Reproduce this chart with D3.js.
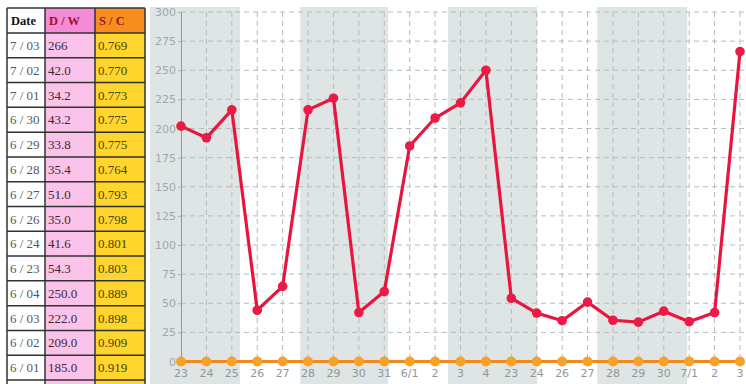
<!DOCTYPE html>
<html>
<head>
<meta charset="utf-8">
<script src="https://cdn.jsdelivr.net/npm/d3@7"></script>
<style>
  html, body { margin: 0; padding: 0; background: #fff; }
  svg { display: block; }
</style>
</head>
<body>
<div id="chart"></div>
<script>
// chart data
const dayLabels = ["23", "24", "25", "26", "27", "28", "29", "30", "31", "6/1", "2", "3", "4",
  "23", "24", "26", "27", "28", "29", "30", "7/1", "2", "3"];
const dwSeries = [202, 192, 216, 44, 64.5, 216, 226, 42, 60, 185, 209, 222, 250,
  54.3, 41.6, 35.0, 51.0, 35.4, 33.8, 43.2, 34.2, 42.0, 266];
const baseSeries = dayLabels.map(() => 0);
const yTicks = d3.range(0, 301, 25);
// shaded bands, in category-index units
const bandStarts = [-1.22, 4.69, 10.51, 16.38];
const bandEnds = [2.32, 8.15, 14.02, 19.92];

// table data
const tableHeader = ["Date", "D / W", "S / C"];
const tableDates = ["7 / 03", "7 / 02", "7 / 01", "6 / 30", "6 / 29", "6 / 28", "6 / 27",
  "6 / 26", "6 / 24", "6 / 23", "6 / 04", "6 / 03", "6 / 02", "6 / 01"];
const tableDW = ["266", "42.0", "34.2", "43.2", "33.8", "35.4", "51.0",
  "35.0", "41.6", "54.3", "250.0", "222.0", "209.0", "185.0"];
const tableSC = ["0.769", "0.770", "0.773", "0.775", "0.775", "0.764", "0.793",
  "0.798", "0.801", "0.803", "0.889", "0.898", "0.909", "0.919"];

const W = 746, H = 384;
const svg = d3.select("#chart").append("svg")
  .attr("width", W)
  .attr("height", H);

// ---- chart ----
const x = d3.scaleLinear()
  .domain([0, dayLabels.length - 1])
  .range([181, 740]);
const y = d3.scaleLinear()
  .domain([0, 300])
  .range([361.5, 12]);

svg.selectAll("rect.band")
  .data(bandStarts)
  .join("rect")
  .attr("class", "band")
  .attr("x", (d, i) => x(d))
  .attr("y", 7)
  .attr("width", (d, i) => x(bandEnds[i]) - x(d))
  .attr("height", H - 7)
  .attr("fill", "#dfe5e5");

// grid
svg.append("g")
  .selectAll("line")
  .data(yTicks.slice(1))
  .join("line")
  .attr("x1", 181).attr("x2", W)
  .attr("y1", d => y(d)).attr("y2", d => y(d))
  .attr("stroke", "#b4bcbc")
  .attr("stroke-width", 1)
  .attr("stroke-dasharray", "5,4");

svg.append("g")
  .selectAll("line")
  .data(d3.range(1, dayLabels.length))
  .join("line")
  .attr("x1", d => x(d)).attr("x2", d => x(d))
  .attr("y1", y(300)).attr("y2", y(0))
  .attr("stroke", "#b4bcbc")
  .attr("stroke-width", 1)
  .attr("stroke-dasharray", "5,4");

// y axis
const yAxis = svg.append("g")
  .attr("transform", "translate(181,0)")
  .call(d3.axisLeft(y).tickValues(yTicks).tickSize(3).tickPadding(2));
yAxis.select(".domain").attr("stroke", "#8e9696");
yAxis.selectAll(".tick line").attr("stroke", "#a9b1b1");
yAxis.selectAll("text")
  .attr("fill", "#a0a9a9")
  .style("font-family", "DejaVu Sans, sans-serif")
  .style("font-size", "11px");

// x labels
svg.append("g")
  .selectAll("text")
  .data(dayLabels)
  .join("text")
  .attr("x", (d, i) => x(i))
  .attr("y", 377)
  .attr("text-anchor", "middle")
  .attr("fill", "#8e9898")
  .style("font-family", "DejaVu Sans, sans-serif")
  .style("font-size", "11px")
  .text(d => d);

// lines
const line = d3.line()
  .x((d, i) => x(i))
  .y(d => y(d));

svg.append("path")
  .datum(baseSeries)
  .attr("fill", "none")
  .attr("stroke", "#f08a1c")
  .attr("stroke-width", 3)
  .attr("d", line);

svg.append("g")
  .selectAll("circle")
  .data(baseSeries)
  .join("circle")
  .attr("cx", (d, i) => x(i))
  .attr("cy", d => y(d))
  .attr("r", 5)
  .attr("fill", "#f7a12a");

svg.append("path")
  .datum(dwSeries)
  .attr("fill", "none")
  .attr("stroke", "#e8163f")
  .attr("stroke-width", 3.2)
  .attr("stroke-linejoin", "round")
  .attr("d", line);

svg.append("g")
  .selectAll("circle")
  .data(dwSeries)
  .join("circle")
  .attr("cx", (d, i) => x(i))
  .attr("cy", d => y(d))
  .attr("r", 4.8)
  .attr("fill", "#ec1b45");

// ---- table ----
const colX = [7, 45, 95, 145];
const headTop = 8, headBot = 33;
const rowH = (380 - headBot) / tableDates.length;
const headFill = ["#ffffff", "#f58bd6", "#f88d1f"];
const bodyFill = ["#ffffff", "#fbc3ea", "#ffd52e"];
const headText = ["#111111", "#a0102e", "#a0102e"];
const bodyText = ["#555a5a", "#3a2a30", "#4a4410"];
const columns = [tableDates, tableDW, tableSC];

const table = svg.append("g");
columns.forEach((col, c) => {
  table.append("rect")
    .attr("x", colX[c]).attr("y", headTop)
    .attr("width", colX[c + 1] - colX[c]).attr("height", headBot - headTop)
    .attr("fill", headFill[c]);
  table.append("rect")
    .attr("x", colX[c]).attr("y", headBot)
    .attr("width", colX[c + 1] - colX[c]).attr("height", H - headBot)
    .attr("fill", bodyFill[c]);
  table.append("text")
    .attr("x", colX[c] + 4).attr("y", headTop + 17)
    .attr("fill", headText[c])
    .style("font-family", "Liberation Serif, serif")
    .style("font-weight", "bold")
    .style("font-size", "12.5px")
    .text(tableHeader[c]);
  table.selectAll(null)
    .data(col)
    .join("text")
    .attr("x", colX[c] + 3)
    .attr("y", (d, i) => headBot + i * rowH + 17)
    .attr("fill", bodyText[c])
    .style("font-family", "Liberation Serif, serif")
    .style("font-size", "13px")
    .text(d => d);
});

// table rules
const rowLines = d3.range(0, tableDates.length + 1).map(i => headBot + i * rowH);
table.selectAll("line.h")
  .data([headTop].concat(rowLines))
  .join("line")
  .attr("x1", colX[0]).attr("x2", colX[3])
  .attr("y1", d => d).attr("y2", d => d)
  .attr("stroke", "#2e3333")
  .attr("stroke-width", 1.5);
table.selectAll("line.v")
  .data(colX)
  .join("line")
  .attr("x1", d => d).attr("x2", d => d)
  .attr("y1", headTop).attr("y2", H)
  .attr("stroke", "#2e3333")
  .attr("stroke-width", 1.5);
</script>
</body>
</html>
